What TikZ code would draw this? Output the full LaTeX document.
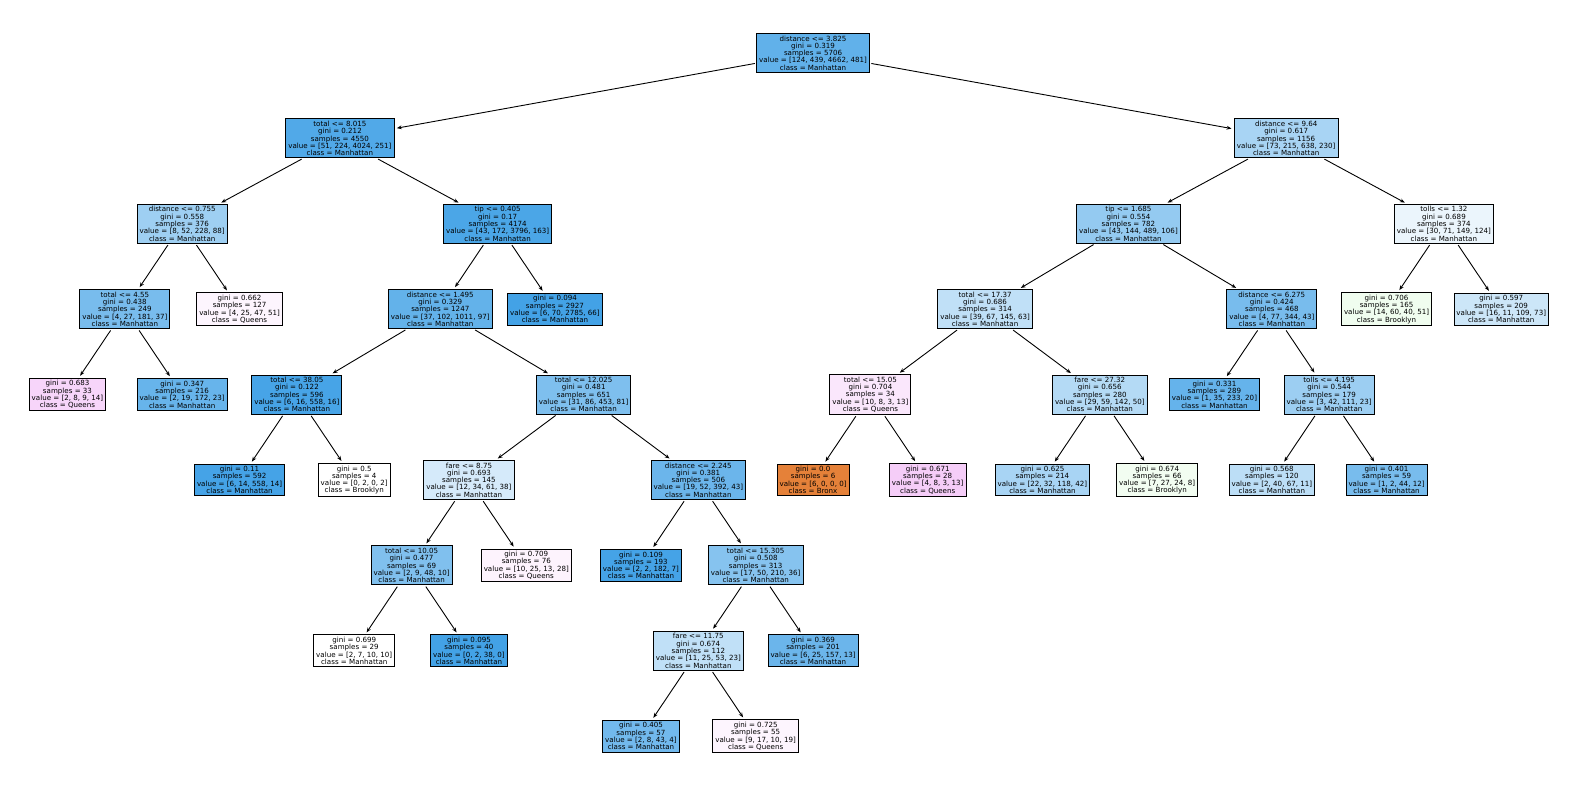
\documentclass[tikz,border=0pt]{standalone}
\usepackage{fontspec}
\setmainfont{DejaVu Sans}
\usetikzlibrary{arrows.meta}
\definecolor{bronx}{RGB}{229,129,57}
\definecolor{brook}{RGB}{71,229,57}
\definecolor{manh}{RGB}{57,157,229}
\definecolor{queens}{RGB}{215,57,229}
\tikzset{
  tbox/.style={rectangle, draw=black, line width=0.9pt, align=center, inner xsep=2.5pt, inner ysep=2.2pt},
  mh/.style={tbox, fill=manh!#1!white},
  qn/.style={tbox, fill=queens!#1!white},
  bk/.style={tbox, fill=brook!#1!white},
  bx/.style={tbox, fill=bronx!#1!white},
}

\begin{document}
\begin{tikzpicture}[
  x=57.35pt, y=-85.4pt,
  font=\fontsize{7.1}{7.3}\selectfont,
  >={Stealth[length=4.8pt,width=3.8pt]},
  conn/.style={->, line width=0.9pt, shorten <=1.5pt, shorten >=2.5pt},
]
\useasboundingbox (-1.177,-0.6206) rectangle (26.199,8.630);
% level 0 and 1
\node[mh=80] (root) at (13,0) {distance <= 3.825\\gini = 0.319\\samples = 5706\\value = [124, 439, 4662, 481]\\class = Manhattan};
\node[mh=88] (tot8) at (4.75,1) {total <= 8.015\\gini = 0.212\\samples = 4550\\value = [51, 224, 4024, 251]\\class = Manhattan};
\node[mh=44] (dist964) at (21.25,1) {distance <= 9.64\\gini = 0.617\\samples = 1156\\value = [73, 215, 638, 230]\\class = Manhattan};
% level 2
\node[mh=49] (dist0755) at (2,2) {distance <= 0.755\\gini = 0.558\\samples = 376\\value = [8, 52, 228, 88]\\class = Manhattan};
\node[mh=91] (tip0405) at (7.5,2) {tip <= 0.405\\gini = 0.17\\samples = 4174\\value = [43, 172, 3796, 163]\\class = Manhattan};
\node[mh=54] (tip1685) at (18.5,2) {tip <= 1.685\\gini = 0.554\\samples = 782\\value = [43, 144, 489, 106]\\class = Manhattan};
\node[mh=10] (tolls132) at (24,2) {tolls <= 1.32\\gini = 0.689\\samples = 374\\value = [30, 71, 149, 124]\\class = Manhattan};
% level 3
\node[mh=68] (tot455) at (1,3) {total <= 4.55\\gini = 0.438\\samples = 249\\value = [4, 27, 181, 37]\\class = Manhattan};
\node[qn=5] (lf662) at (3,3) {gini = 0.662\\samples = 127\\value = [4, 25, 47, 51]\\class = Queens};
\node[mh=79] (dist1495) at (6.5,3) {distance <= 1.495\\gini = 0.329\\samples = 1247\\value = [37, 102, 1011, 97]\\class = Manhattan};
\node[mh=95] (lf094) at (8.5,3) {gini = 0.094\\samples = 2927\\value = [6, 70, 2785, 66]\\class = Manhattan};
\node[mh=32] (tot1737) at (16,3) {total <= 17.37\\gini = 0.686\\samples = 314\\value = [39, 67, 145, 63]\\class = Manhattan};
\node[mh=68] (dist6275) at (21,3) {distance <= 6.275\\gini = 0.424\\samples = 468\\value = [4, 77, 344, 43]\\class = Manhattan};
\node[bk=8] (lf706) at (23,3) {gini = 0.706\\samples = 165\\value = [14, 60, 40, 51]\\class = Brooklyn};
\node[mh=26] (lf597) at (25,3) {gini = 0.597\\samples = 209\\value = [16, 11, 109, 73]\\class = Manhattan};
% level 4
\node[qn=21] (lf683) at (0,4) {gini = 0.683\\samples = 33\\value = [2, 8, 9, 14]\\class = Queens};
\node[mh=77] (lf347) at (2,4) {gini = 0.347\\samples = 216\\value = [2, 19, 172, 23]\\class = Manhattan};
\node[mh=93] (tot3805) at (4,4) {total <= 38.05\\gini = 0.122\\samples = 596\\value = [6, 16, 558, 16]\\class = Manhattan};
\node[mh=65] (tot12025) at (9,4) {total <= 12.025\\gini = 0.481\\samples = 651\\value = [31, 86, 453, 81]\\class = Manhattan};
\node[qn=12] (tot1505) at (14,4) {total <= 15.05\\gini = 0.704\\samples = 34\\value = [10, 8, 3, 13]\\class = Queens};
\node[mh=38] (fare2732) at (18,4) {fare <= 27.32\\gini = 0.656\\samples = 280\\value = [29, 59, 142, 50]\\class = Manhattan};
\node[mh=78] (lf331) at (20,4) {gini = 0.331\\samples = 289\\value = [1, 35, 233, 20]\\class = Manhattan};
\node[mh=50] (tolls4195) at (22,4) {tolls <= 4.195\\gini = 0.544\\samples = 179\\value = [3, 42, 111, 23]\\class = Manhattan};
% level 5
\node[mh=94] (lf011) at (3,5) {gini = 0.11\\samples = 592\\value = [6, 14, 558, 14]\\class = Manhattan};
\node[bk=0] (lf05) at (5,5) {gini = 0.5\\samples = 4\\value = [0, 2, 0, 2]\\class = Brooklyn};
\node[mh=21] (fare875) at (7,5) {fare <= 8.75\\gini = 0.693\\samples = 145\\value = [12, 34, 61, 38]\\class = Manhattan};
\node[mh=75] (dist2245) at (11,5) {distance <= 2.245\\gini = 0.381\\samples = 506\\value = [19, 52, 392, 43]\\class = Manhattan};
\node[bx=100] (lf00) at (13,5) {gini = 0.0\\samples = 6\\value = [6, 0, 0, 0]\\class = Bronx};
\node[qn=25] (lf671) at (15,5) {gini = 0.671\\samples = 28\\value = [4, 8, 3, 13]\\class = Queens};
\node[mh=44] (lf625) at (17,5) {gini = 0.625\\samples = 214\\value = [22, 32, 118, 42]\\class = Manhattan};
\node[bk=7] (lf674) at (19,5) {gini = 0.674\\samples = 66\\value = [7, 27, 24, 8]\\class = Brooklyn};
\node[mh=34] (lf568) at (21,5) {gini = 0.568\\samples = 120\\value = [2, 40, 67, 11]\\class = Manhattan};
\node[mh=68] (lf401) at (23,5) {gini = 0.401\\samples = 59\\value = [1, 2, 44, 12]\\class = Manhattan};
% level 6
\node[mh=64] (tot1005) at (6,6) {total <= 10.05\\gini = 0.477\\samples = 69\\value = [2, 9, 48, 10]\\class = Manhattan};
\node[qn=6] (lf709) at (8,6) {gini = 0.709\\samples = 76\\value = [10, 25, 13, 28]\\class = Queens};
\node[mh=94] (lf109) at (10,6) {gini = 0.109\\samples = 193\\value = [2, 2, 182, 7]\\class = Manhattan};
\node[mh=61] (tot15305) at (12,6) {total <= 15.305\\gini = 0.508\\samples = 313\\value = [17, 50, 210, 36]\\class = Manhattan};
% level 7
\node[mh=0] (lf699) at (5,7) {gini = 0.699\\samples = 29\\value = [2, 7, 10, 10]\\class = Manhattan};
\node[mh=95] (lf095) at (7,7) {gini = 0.095\\samples = 40\\value = [0, 2, 38, 0]\\class = Manhattan};
\node[mh=32] (fare1175) at (11,7) {fare <= 11.75\\gini = 0.674\\samples = 112\\value = [11, 25, 53, 23]\\class = Manhattan};
\node[mh=75] (lf369) at (13,7) {gini = 0.369\\samples = 201\\value = [6, 25, 157, 13]\\class = Manhattan};
% level 8
\node[mh=71] (lf405) at (10,8) {gini = 0.405\\samples = 57\\value = [2, 8, 43, 4]\\class = Manhattan};
\node[qn=5] (lf725) at (12,8) {gini = 0.725\\samples = 55\\value = [9, 17, 10, 19]\\class = Queens};
% connectors
\draw[conn] (root) -- (tot8);
\draw[conn] (root) -- (dist964);
\draw[conn] (tot8) -- (dist0755);
\draw[conn] (tot8) -- (tip0405);
\draw[conn] (dist964) -- (tip1685);
\draw[conn] (dist964) -- (tolls132);
\draw[conn] (dist0755) -- (tot455);
\draw[conn] (dist0755) -- (lf662);
\draw[conn] (tot455) -- (lf683);
\draw[conn] (tot455) -- (lf347);
\draw[conn] (tip0405) -- (dist1495);
\draw[conn] (tip0405) -- (lf094);
\draw[conn] (dist1495) -- (tot3805);
\draw[conn] (dist1495) -- (tot12025);
\draw[conn] (tot3805) -- (lf011);
\draw[conn] (tot3805) -- (lf05);
\draw[conn] (tot12025) -- (fare875);
\draw[conn] (tot12025) -- (dist2245);
\draw[conn] (fare875) -- (tot1005);
\draw[conn] (fare875) -- (lf709);
\draw[conn] (tot1005) -- (lf699);
\draw[conn] (tot1005) -- (lf095);
\draw[conn] (dist2245) -- (lf109);
\draw[conn] (dist2245) -- (tot15305);
\draw[conn] (tot15305) -- (fare1175);
\draw[conn] (tot15305) -- (lf369);
\draw[conn] (fare1175) -- (lf405);
\draw[conn] (fare1175) -- (lf725);
\draw[conn] (tip1685) -- (tot1737);
\draw[conn] (tip1685) -- (dist6275);
\draw[conn] (tot1737) -- (tot1505);
\draw[conn] (tot1737) -- (fare2732);
\draw[conn] (tot1505) -- (lf00);
\draw[conn] (tot1505) -- (lf671);
\draw[conn] (fare2732) -- (lf625);
\draw[conn] (fare2732) -- (lf674);
\draw[conn] (dist6275) -- (lf331);
\draw[conn] (dist6275) -- (tolls4195);
\draw[conn] (tolls4195) -- (lf568);
\draw[conn] (tolls4195) -- (lf401);
\draw[conn] (tolls132) -- (lf706);
\draw[conn] (tolls132) -- (lf597);
\end{tikzpicture}
\end{document}
